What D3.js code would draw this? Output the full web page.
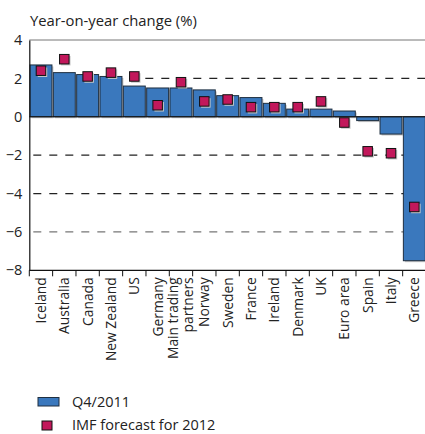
<!DOCTYPE html>
<html><head><meta charset="utf-8">
<script src="https://cdn.jsdelivr.net/npm/d3@7"></script>
<style>body{margin:0;background:#fff}svg{display:block}</style>
</head><body>
<script>
const categories = ["Iceland","Australia","Canada","New Zealand","US","Germany","Main trading partners","Norway","Sweden","France","Ireland","Denmark","UK","Euro area","Spain","Italy","Greece"];
const q42011 = [2.7,2.3,2.2,2.1,1.6,1.5,1.5,1.4,1.1,1.0,0.7,0.4,0.4,0.3,-0.2,-0.9,-7.5];
const imf2012 = [2.4,3.0,2.1,2.3,2.1,0.6,1.8,0.8,0.9,0.5,0.5,0.5,0.8,-0.3,-1.8,-1.9,-4.7];
const yTicks = [4,2,0,-2,-4,-6,-8];
const gridVals = [2,-2,-4,-6];
const legendLabels = ["Q4/2011","IMF forecast for 2012"];

const W=425,H=434;
const font = "'Open Sans', 'DejaVu Sans', sans-serif";
const svg=d3.select("body").append("svg").attr("width",W).attr("height",H).style("font-family",font);

const x=d3.scaleBand().domain(categories).range([29.3,426]).paddingInner(0.06).paddingOuter(0.03);
const y=d3.scaleLinear().domain([-8,4]).range([270.3,40]);
const bw=x.bandwidth();
const BLUE="#3a78bd", MAG="#c2185b";

// title
svg.append("text").attr("x",30).attr("y",25.5).attr("font-size",14.8).attr("fill","#222").text("Year-on-year change (%)");

// top frame line
svg.append("line").attr("x1",29.3).attr("x2",W).attr("y1",y(4)).attr("y2",y(4)).attr("stroke","#777").attr("stroke-width",1);

// gridlines
svg.selectAll(".grid").data(gridVals).join("line")
  .attr("x1",29.3).attr("x2",W).attr("y1",d=>y(d)).attr("y2",d=>y(d))
  .attr("stroke",d=>d===-6?"#777":"#222").attr("stroke-width",1.2).attr("stroke-dasharray","8,8")
  .attr("stroke-dashoffset",-4);

// bar shadows
svg.selectAll(".bs").data(q42011).join("rect")
  .attr("x",(d,i)=>x(categories[i])+1.5).attr("y",d=>Math.min(y(d),y(0))+1.5)
  .attr("width",bw).attr("height",d=>Math.abs(y(d)-y(0))).attr("fill","#c8c8c8");
// bars
svg.selectAll(".bar").data(q42011).join("rect")
  .attr("x",(d,i)=>x(categories[i])).attr("y",d=>Math.min(y(d),y(0)))
  .attr("width",bw).attr("height",d=>Math.abs(y(d)-y(0)))
  .attr("fill",BLUE).attr("stroke","#1f2f40").attr("stroke-width",1);

// zero line
svg.append("line").attr("x1",29.3).attr("x2",W).attr("y1",y(0)).attr("y2",y(0)).attr("stroke","#111").attr("stroke-width",1.2);

// markers
const ms=9.5;
svg.selectAll(".msh").data(imf2012).join("rect")
  .attr("x",(d,i)=>x(categories[i])+bw/2-ms/2+1.5).attr("y",d=>y(d)-ms/2+1.5)
  .attr("width",ms).attr("height",ms).attr("fill","#c8c8c8");
svg.selectAll(".mk").data(imf2012).join("rect")
  .attr("x",(d,i)=>x(categories[i])+bw/2-ms/2).attr("y",d=>y(d)-ms/2)
  .attr("width",ms).attr("height",ms).attr("fill",MAG).attr("stroke","#111").attr("stroke-width",1);

// left axis
const ya=svg.append("g").attr("transform","translate(29.3,0)").call(d3.axisLeft(y).tickValues(yTicks).tickSize(0).tickPadding(7).tickFormat(d3.format("d")));
ya.select(".domain").attr("stroke","#111").attr("stroke-width",1.2);
ya.selectAll("text").attr("font-size",14.5).attr("font-family",font).attr("fill","#222");

// bottom axis
const xa=svg.append("g").attr("transform",`translate(0,${y(-8)})`).call(d3.axisBottom(x).tickSize(0).tickFormat(""));
xa.select(".domain").remove();
svg.append("line").attr("x1",29.3).attr("x2",W).attr("y1",y(-8)).attr("y2",y(-8)).attr("stroke","#111").attr("stroke-width",1.2);
const step=x.step();
svg.selectAll(".tk").data(categories).join("line")
  .attr("x1",d=>x(d)-step*0.03).attr("x2",d=>x(d)-step*0.03)
  .attr("y1",y(-8)).attr("y2",y(-8)+6).attr("stroke","#111").attr("stroke-width",1);

// category labels
const labG=svg.append("g");
categories.forEach(c=>{
  const cx=x(c)+bw/2;
  const lines = c==="Main trading partners" ? ["Main trading","partners"] : [c];
  const g=labG.append("g").attr("transform",`translate(${cx},${y(-8)+7}) rotate(-90)`);
  lines.forEach((l,j)=>{
    const off = lines.length===1 ? 5 : (j===0 ? -2.5 : 12);
    g.append("text").attr("x",0).attr("y",off).attr("text-anchor","end")
      .attr("font-size",13.8).attr("fill","#222").text(l);
  });
});

// legend
svg.append("rect").attr("x",38).attr("y",397.5).attr("width",21).attr("height",8.5).attr("fill",BLUE).attr("stroke","#1f2f40").attr("stroke-width",1);
svg.append("rect").attr("x",42).attr("y",421).attr("width",10).attr("height",9).attr("fill",MAG).attr("stroke","#111").attr("stroke-width",1);
svg.append("text").attr("x",72).attr("y",407).attr("font-size",14.5).attr("fill","#222").text(legendLabels[0]);
svg.append("text").attr("x",72).attr("y",430).attr("font-size",14.5).attr("fill","#222").text(legendLabels[1]);
</script>
</body></html>
